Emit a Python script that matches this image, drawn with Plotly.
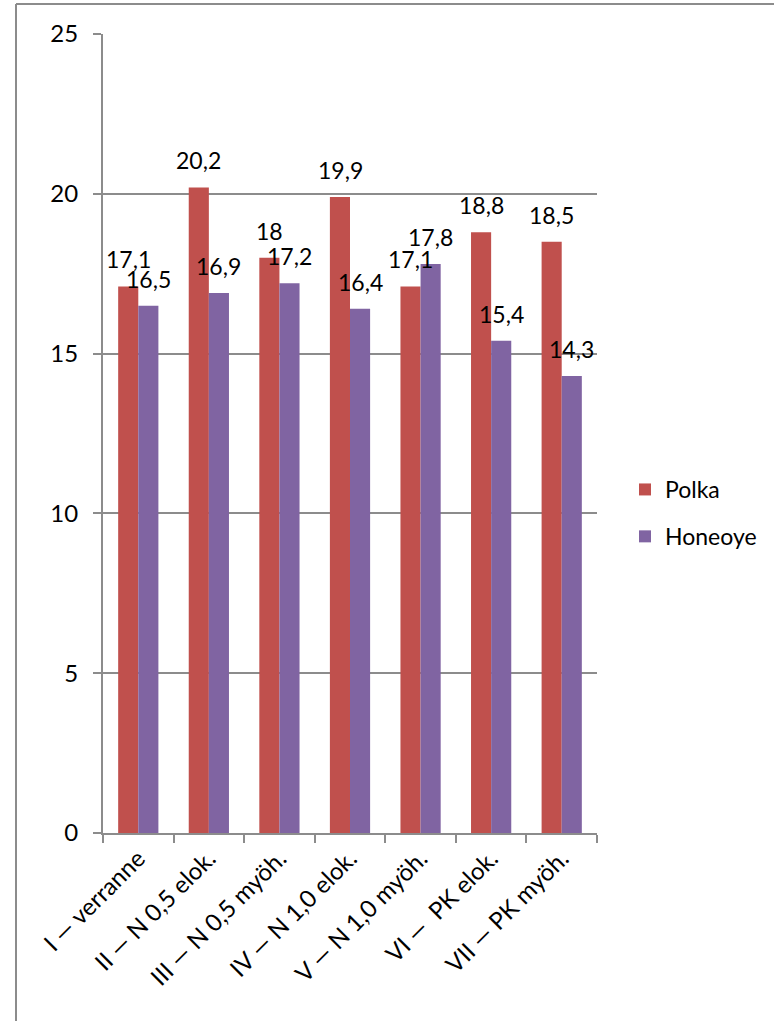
import plotly.graph_objects as go

categories = ["I — verranne", "II — N 0,5 elok.", "III — N 0,5 myöh.", "IV — N 1,0 elok.",
              "V — N 1,0 myöh.", "VI —  PK elok.", "VII — PK myöh."]
polka = [17.1, 20.2, 18.0, 19.9, 17.1, 18.8, 18.5]
honeoye = [16.5, 16.9, 17.2, 16.4, 17.8, 15.4, 14.3]
y_ticks = [0, 5, 10, 15, 20, 25]

FONT = "Lato"
GRID = "#8c8c8c"
RED = "#C0504D"
PURPLE = "#8064A2"

fig = go.Figure()
fig.add_trace(go.Bar(x=categories, y=polka, name="Polka", marker_color=RED,
                     marker_line_width=0, legendgroup="p"))
fig.add_trace(go.Bar(x=categories, y=honeoye, name="Honeoye", marker_color=PURPLE,
                     marker_line_width=0, legendgroup="h"))


def fmt(v):
    s = f"{v:g}"
    return s.replace(".", ",")


for series, shift in ((polka, -10), (honeoye, 10)):
    for c, v in zip(categories, series):
        fig.add_annotation(x=c, y=v, xref="x", yref="y", text=fmt(v), showarrow=False,
                           xshift=shift, yshift=11, yanchor="bottom",
                           font=dict(family=FONT, size=23, color="black"))

W, H = 774, 1021
L, R, T, B = 103, 597, 34, 833
fig.update_layout(
    width=W, height=H,
    margin=dict(l=L, r=W - R, t=T, b=H - B, pad=0),
    paper_bgcolor="white", plot_bgcolor="white",
    barmode="group", bargap=0.43, bargroupgap=0,
    font=dict(family=FONT, size=22, color="black"),
    showlegend=True,
    legend=dict(xref="container", yref="container", x=625 / W, y=1 - 468 / H,
                xanchor="left", yanchor="top",
                font=dict(family=FONT, size=23), traceorder="grouped", tracegroupgap=14,
                itemwidth=30, bgcolor="rgba(0,0,0,0)"),
)
fig.update_xaxes(type="category", showgrid=False, showline=True, linecolor=GRID, linewidth=2,
                 ticks="outside", tickson="boundaries", ticklen=8, tickcolor=GRID, tickwidth=2,
                 tickangle=-45, tickfont=dict(family=FONT, size=24), automargin=False)
fig.update_yaxes(range=[0, 25], tickvals=y_ticks, showgrid=True, gridcolor=GRID, gridwidth=1.5,
                 showline=True, linecolor=GRID, linewidth=2, ticks="outside", ticklen=8,
                 tickcolor=GRID, tickwidth=2, zeroline=False, ticklabelstandoff=10,
                 tickfont=dict(family=FONT, size=24), automargin=False)

# outer chart border (left and top edges)
bx = (16 - L) / (R - L)
ty = (B - 4) / (B - T)
fig.add_shape(type="line", xref="paper", yref="paper", x0=bx, x1=bx, y0=-0.5, y1=ty,
              line=dict(color=GRID, width=2))
fig.add_shape(type="line", xref="paper", yref="paper", x0=bx, x1=1.5, y0=ty, y1=ty,
              line=dict(color=GRID, width=2))

fig.write_html("out.html")
